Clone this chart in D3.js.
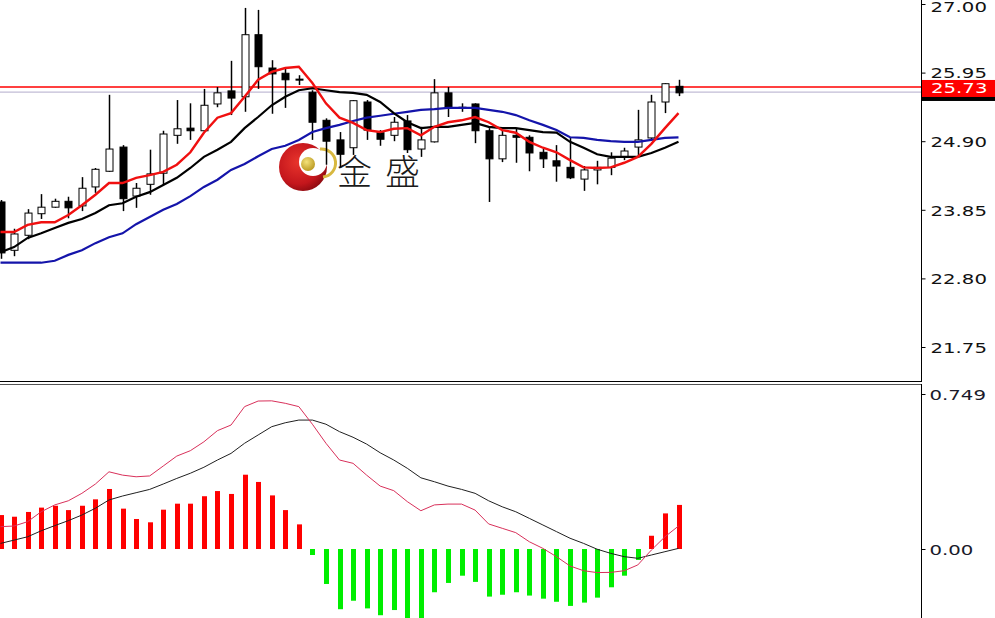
<!DOCTYPE html>
<html>
<head>
<meta charset="utf-8">
<script src="https://cdn.jsdelivr.net/npm/d3@7"></script>
<style>
html,body{margin:0;padding:0;background:#fff;overflow:hidden;}
svg{display:block;}
</style>
</head>
<body>
<svg id="chart" width="995" height="618"></svg>
<script>
// ---------- data ----------
const opens  = [23.97,23.23,23.46,23.79,23.89,23.98,23.91,24.20,24.44,24.81, 24.06,24.24,24.41,24.99,25.10,25.06,25.47,25.67,25.58,26.53, 26.02,25.94,25.85,25.65,25.22,24.92,24.80,25.50,25.03,24.99, 25.21,24.78,24.89,25.64,25.42,25.47,25.06,24.63,24.99,24.96, 24.73,24.60,24.50,24.32,24.46,24.50,24.66,24.81,24.95,25.50, 25.74];
const highs  = [24.00,23.56,23.86,24.09,24.02,24.05,24.35,24.49,25.61,24.84, 24.26,24.77,25.06,25.53,25.48,25.70,25.73,26.13,26.94,26.91, 26.14,26.02,25.91,25.68,25.25,25.04,25.53,25.53,25.07,25.27, 25.30,25.12,25.85,25.73,25.48,25.48,25.10,25.07,25.10,24.99, 24.78,24.84,24.95,24.52,24.60,24.73,24.80,25.38,25.61,25.79, 25.84];
const lows   = [23.10,23.14,23.40,23.71,23.88,23.72,23.83,24.11,24.43,23.83, 23.88,24.08,24.23,24.86,24.92,25.05,25.42,25.30,25.35,25.70, 25.32,25.41,25.76,24.92,24.54,24.50,24.69,24.92,24.83,24.90, 24.72,24.66,24.88,25.27,25.35,24.87,23.97,24.58,24.57,24.44, 24.49,24.28,24.32,24.14,24.24,24.38,24.61,24.67,24.93,25.33, 25.59];
const closes = [23.19,23.48,23.80,23.89,23.98,23.88,24.18,24.47,24.78,24.02, 24.18,24.40,25.01,25.09,25.06,25.45,25.64,25.56,26.53,26.04, 25.93,25.84,25.84,25.19,24.90,24.70,25.52,25.07,24.93,25.19, 24.77,24.92,25.64,25.42,25.41,25.06,24.63,24.99,24.96,24.72, 24.63,24.52,24.34,24.46,24.50,24.64,24.75,24.92,25.50,25.78, 25.64];

const maFast = [23.51,23.51,23.62,23.66,23.66,23.77,23.92,24.08,24.26,24.26, 24.34,24.38,24.43,24.54,24.73,25.03,25.26,25.33,25.58,25.84, 25.96,26.02,26.04,25.79,25.48,25.26,25.18,25.07,25.04,25.09, 25.10,24.99,25.12,25.19,25.22,25.27,25.19,25.07,25.03,24.89, 24.80,24.73,24.61,24.50,24.49,24.50,24.57,24.66,24.86,25.10, 25.33];
const maMid  = [23.20,23.28,23.42,23.49,23.57,23.65,23.71,23.80,23.92,23.95, 24.05,24.12,24.23,24.34,24.49,24.66,24.77,24.89,25.10,25.27, 25.45,25.58,25.68,25.71,25.68,25.65,25.64,25.61,25.50,25.33, 25.19,25.10,25.12,25.12,25.15,25.18,25.12,25.10,25.10,25.07, 25.04,25.03,24.89,24.80,24.70,24.66,24.66,24.66,24.72,24.80, 24.89];
const maSlow = [23.04,23.04,23.04,23.04,23.07,23.16,23.23,23.34,23.43,23.49, 23.63,23.74,23.85,23.94,24.06,24.20,24.31,24.46,24.55,24.67, 24.78,24.83,24.92,25.04,25.10,25.15,25.21,25.26,25.29,25.32, 25.35,25.38,25.39,25.41,25.41,25.41,25.38,25.35,25.30,25.22, 25.15,25.07,24.96,24.95,24.92,24.90,24.89,24.89,24.92,24.95, 24.96];

const macdHist = [0.164,0.156,0.179,0.200,0.209,0.188,0.209,0.240,0.290,0.195, 0.145,0.129,0.190,0.219,0.219,0.255,0.280,0.266,0.359,0.324, 0.259,0.188,0.119,-0.029,-0.169,-0.291,-0.250,-0.287,-0.320,-0.295, -0.345,-0.340,-0.209,-0.164,-0.129,-0.159,-0.230,-0.221,-0.209,-0.225, -0.240,-0.255,-0.275,-0.259,-0.235,-0.185,-0.129,-0.053,0.064,0.172, 0.213];
const macdLine = [0.108,0.111,0.132,0.180,0.213,0.233,0.269,0.314,0.373,0.357, 0.349,0.353,0.401,0.449,0.475,0.518,0.572,0.599,0.688,0.715, 0.716,0.704,0.688,0.603,0.511,0.430,0.414,0.357,0.304,0.282, 0.229,0.185,0.213,0.217,0.217,0.188,0.121,0.100,0.079,0.035, 0.003,-0.037,-0.082,-0.105,-0.114,-0.113,-0.105,-0.077,-0.005,0.059, 0.111];
const signalLine = [0.027,0.043,0.059,0.088,0.113,0.137,0.164,0.197,0.237,0.256, 0.272,0.288,0.314,0.341,0.366,0.395,0.430,0.462,0.511,0.551, 0.591,0.610,0.623,0.623,0.603,0.567,0.540,0.507,0.465,0.430, 0.390,0.344,0.325,0.304,0.288,0.269,0.233,0.204,0.180,0.148, 0.116,0.084,0.052,0.027,-0.001,-0.021,-0.037,-0.045,-0.029,-0.013, 0.003];

const priceTicks = [27.00, 25.95, 24.90, 23.85, 22.80, 21.75];
const macdTicks = [0.749, 0.00];
const lastPrice = 25.73;
const refPrice = 25.65;
const logoChars = ["金", "盛"];

// ---------- scales ----------
const svg = d3.select("#chart");
const n = closes.length;
const x = d3.scaleLinear().domain([0, n - 1]).range([0.5, 678.5]);
const y = d3.scaleLinear().domain([27.00, 21.75]).range([4, 347]);
const ym = d3.scaleLinear().domain([0, 0.749]).range([549, 394]);
const AX = 921.5;
const px = i => Math.round(x(i)) + 0.5;

const defs = svg.append("defs");
defs.append("clipPath").attr("id","cpPrice").append("rect").attr("x",0).attr("y",0).attr("width",AX).attr("height",381);
defs.append("clipPath").attr("id","cpMacd").append("rect").attr("x",0).attr("y",386).attr("width",AX).attr("height",240);
const rg = defs.append("radialGradient").attr("id","logoGrad").attr("cx","40%").attr("cy","40%").attr("r","65%");
rg.append("stop").attr("offset","0%").attr("stop-color","#e8342c");
rg.append("stop").attr("offset","70%").attr("stop-color","#c4161c");
rg.append("stop").attr("offset","100%").attr("stop-color","#8c0a10");
const gg = defs.append("radialGradient").attr("id","goldGrad").attr("cx","40%").attr("cy","35%").attr("r","70%");
gg.append("stop").attr("offset","0%").attr("stop-color","#f4e27a");
gg.append("stop").attr("offset","100%").attr("stop-color","#b8961e");

// ---------- price panel ----------
const gp = svg.append("g").attr("clip-path","url(#cpPrice)");

// logo (behind)
const logo = gp.append("g");
logo.append("circle").attr("cx",303).attr("cy",167).attr("r",24).attr("fill","url(#logoGrad)");
logo.append("circle").attr("cx",313).attr("cy",162).attr("r",14).attr("fill","#fff");
logo.append("path").attr("d","M 320 149 A 14 14 0 0 1 323 177").attr("fill","none").attr("stroke","#d8b840").attr("stroke-width",3);
logo.append("circle").attr("cx",308).attr("cy",164).attr("r",7).attr("fill","url(#goldGrad)");
logo.selectAll("text").data(logoChars).join("text")
  .attr("x",(d,i)=> 337 + i*48).attr("y",185)
  .attr("font-family","'Noto Sans CJK SC','Noto Sans CJK JP',sans-serif").attr("font-weight",300)
  .attr("font-size",35).attr("fill","#1a1a1a").text(d=>d);

// horizontal price lines
const ry = y(refPrice), lyy = y(lastPrice);
gp.append("line").attr("x1",0).attr("x2",AX).attr("y1",ry).attr("y2",ry)
  .attr("stroke","#c2bcd6").attr("stroke-width",1.2);
gp.append("line").attr("x1",0).attr("x2",AX).attr("y1",lyy).attr("y2",lyy)
  .attr("stroke","#ff0000").attr("stroke-width",1.6);

// candles
const idx = d3.range(n);
const cg = gp.append("g");
cg.selectAll("line.wick").data(idx).join("line").attr("class","wick")
  .attr("x1",px).attr("x2",px)
  .attr("y1",i=>y(highs[i])).attr("y2",i=>y(lows[i]))
  .attr("stroke","#000").attr("stroke-width",1.5);
cg.selectAll("rect.body").data(idx).join("rect").attr("class","body")
  .attr("x",i=>px(i)-3.5)
  .attr("y",i=>Math.min(y(opens[i]),y(closes[i])))
  .attr("width",7)
  .attr("height",i=>Math.max(1,Math.abs(y(opens[i])-y(closes[i]))))
  .attr("fill",i=> closes[i] >= opens[i] ? "#fff" : "#000")
  .attr("stroke","#000").attr("stroke-width",1);

// moving averages
const lineGen = arr => d3.line().x(i=>x(i)).y(i=>y(arr[i]))(idx);
gp.append("path").attr("d",lineGen(maSlow)).attr("fill","none").attr("stroke","#1414aa").attr("stroke-width",2.2);
gp.append("path").attr("d",lineGen(maMid)).attr("fill","none").attr("stroke","#000").attr("stroke-width",2.2);
gp.append("path").attr("d",lineGen(maFast)).attr("fill","none").attr("stroke","#f01010").attr("stroke-width",2.4);

// ---------- MACD panel ----------
const gm = svg.append("g").attr("clip-path","url(#cpMacd)");
gm.selectAll("rect.hist").data(idx).join("rect").attr("class","hist")
  .attr("x",i=>Math.round(x(i))-2)
  .attr("width",5)
  .attr("y",i=> macdHist[i] >= 0 ? ym(macdHist[i]) : ym(0))
  .attr("height",i=>Math.abs(ym(macdHist[i])-ym(0)))
  .attr("fill",i=> macdHist[i] >= 0 ? "#ff0000" : "#00ee00");
const mline = arr => d3.line().x(i=>x(i)).y(i=>ym(arr[i]))(idx);
gm.append("path").attr("d",mline(signalLine)).attr("fill","none").attr("stroke","#202020").attr("stroke-width",1);
gm.append("path").attr("d",mline(macdLine)).attr("fill","none").attr("stroke","#d8305a").attr("stroke-width",1);

// ---------- frames ----------
svg.append("line").attr("x1",0).attr("x2",AX).attr("y1",381.5).attr("y2",381.5).attr("stroke","#000");
svg.append("line").attr("x1",0).attr("x2",AX).attr("y1",384.5).attr("y2",384.5).attr("stroke","#555");
svg.append("line").attr("x1",AX).attr("x2",AX).attr("y1",0).attr("y2",382).attr("stroke","#000");
svg.append("line").attr("x1",AX).attr("x2",AX).attr("y1",384).attr("y2",618).attr("stroke","#000");

// ---------- axes ----------
const fmtLabel = (sel) => sel.attr("font-family","'DejaVu Sans',Verdana,sans-serif").attr("font-size",14.5);
const pAxis = d3.axisRight(y).tickValues(priceTicks).tickFormat(d3.format(".2f")).tickSize(4).tickPadding(0);
const pa = svg.append("g").attr("transform",`translate(${AX},0)`).call(pAxis);
pa.select(".domain").remove();
pa.selectAll(".tick line").attr("stroke","#000");
pa.selectAll(".tick text").call(fmtLabel).attr("fill","#111").attr("x",0)
  .attr("dy",d=> d===27 ? "0.55em" : "0.36em")
  .attr("transform","translate(9,0) scale(1.36,1)");

const mAxis = d3.axisRight(ym).tickValues(macdTicks).tickFormat(d=> d===0 ? "0.00" : d3.format(".3f")(d)).tickSize(4).tickPadding(0);
const ma = svg.append("g").attr("transform",`translate(${AX},0)`).call(mAxis);
ma.select(".domain").remove();
ma.selectAll(".tick line").attr("stroke","#000");
ma.selectAll(".tick text").call(fmtLabel).attr("fill","#1a1a2a").attr("x",0).attr("dy","0.36em")
  .attr("transform","translate(8,0) scale(1.36,1)");

// last price label
const ly = y(lastPrice);
svg.append("rect").attr("x",922).attr("y",ly+6).attr("width",73).attr("height",8).attr("fill","#000");
svg.append("rect").attr("x",922).attr("y",ly-7).attr("width",73).attr("height",17).attr("fill","#ff0000");
svg.append("text").attr("x",0).attr("y",0).call(fmtLabel).attr("fill","#fff").attr("dy","0.36em")
  .attr("transform",`translate(931,${ly+1}) scale(1.36,1)`).text(lastPrice.toFixed(2));
</script>
</body>
</html>
